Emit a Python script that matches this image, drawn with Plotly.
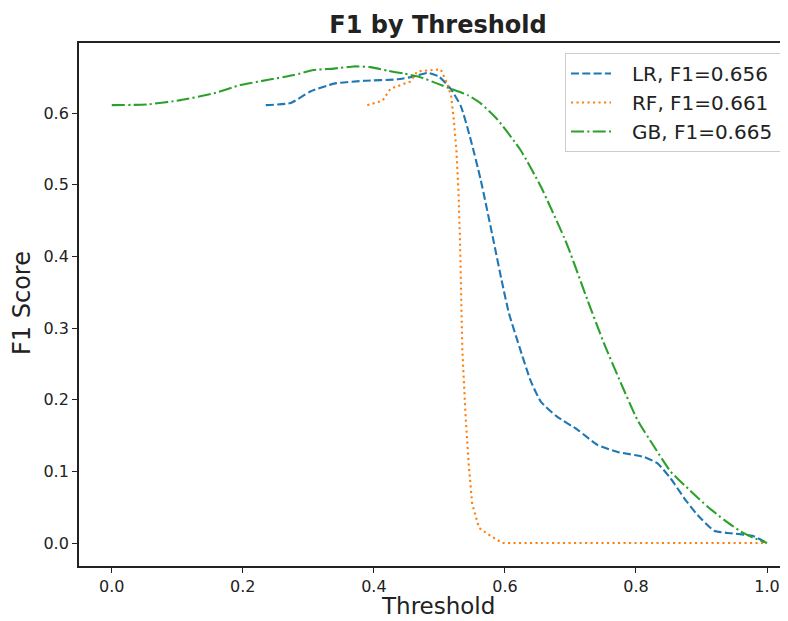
import plotly.graph_objects as go

# ---- data ----
lr_thr = [0.235, 0.273, 0.303, 0.339, 0.385, 0.436, 0.461, 0.482, 0.499, 0.517, 0.533, 0.548, 0.563,
          0.583, 0.596, 0.606, 0.622, 0.639, 0.655, 0.680, 0.711, 0.741, 0.772, 0.8125, 0.833, 0.853,
          0.874, 0.894, 0.9195, 0.945, 0.978, 1.0]
lr_f1 = [0.611, 0.614, 0.630, 0.641, 0.645, 0.647, 0.651, 0.656, 0.651, 0.634, 0.609, 0.562, 0.507,
         0.420, 0.362, 0.321, 0.274, 0.227, 0.197, 0.176, 0.158, 0.137, 0.127, 0.120, 0.111, 0.090,
         0.062, 0.039, 0.017, 0.0135, 0.010, 0.0]

rf_thr = [0.39, 0.413, 0.4255, 0.441, 0.456, 0.466, 0.482, 0.502, 0.512, 0.518, 0.522, 0.526, 0.529,
          0.5315, 0.535, 0.540, 0.545, 0.550, 0.5605, 0.578, 0.596, 0.70, 0.80, 0.90, 1.0]
rf_f1 = [0.611, 0.617, 0.634, 0.639, 0.644, 0.658, 0.659, 0.661, 0.641, 0.623, 0.590, 0.548, 0.493,
         0.420, 0.269, 0.176, 0.107, 0.055, 0.021, 0.010, 0.0, 0.0, 0.0, 0.0, 0.0]

gb_thr = [0.0, 0.054, 0.105, 0.156, 0.196, 0.237, 0.278, 0.308, 0.339, 0.3695, 0.395, 0.4205, 0.446,
          0.471, 0.497, 0.517, 0.543, 0.563, 0.5885, 0.624, 0.655, 0.690, 0.698, 0.726, 0.751, 0.777,
          0.802, 0.828, 0.853, 0.884, 0.909, 0.935, 0.960, 0.981, 1.0]
gb_f1 = [0.611, 0.612, 0.618, 0.6275, 0.639, 0.646, 0.653, 0.660, 0.662, 0.665, 0.664, 0.659, 0.655,
         0.650, 0.641, 0.634, 0.625, 0.6135, 0.591, 0.548, 0.497, 0.427, 0.409, 0.339, 0.279, 0.223,
         0.172, 0.134, 0.0995, 0.072, 0.051, 0.032, 0.016, 0.0066, 0.0]

names = ["LR, F1=0.656", "RF, F1=0.661", "GB, F1=0.665"]
colors = ["#1f77b4", "#ff7f0e", "#2ca02c"]
dashes = ["8px,3.3px", "2.1px,3.4px", "13px,3.3px,2.1px,3.3px"]
shapes = ["spline", "linear", "spline"]

x_ticks = [0.0, 0.2, 0.4, 0.6, 0.8, 1.0]
y_ticks = [0.0, 0.1, 0.2, 0.3, 0.4, 0.5, 0.6]

TS = "\u2009"
fig = go.Figure()
for i, (xs, ys, nm, c, d, sh) in enumerate(zip([lr_thr, rf_thr, gb_thr], [lr_f1, rf_f1, gb_f1],
                                               names, colors, dashes, shapes)):
    fig.add_trace(go.Scatter(x=xs, y=ys, mode="lines", name=TS * 4 + nm + TS * 2, legendgroup=f"g{i}",
                             line=dict(color=c, width=2.1, dash=d, shape=sh,
                                       smoothing=0.5 if sh == "spline" else None)))

# page is offset by the browser's 8px body margin
OFF = 8
W, H = 788 - OFF, 621 - OFF
L, R, T, B = 79 - OFF, 0, 43 - OFF, H - (566 - OFF)
PW, PH = W - L - R, H - T - B
fig.update_layout(
    width=W, height=H,
    margin=dict(l=L, r=R, t=T, b=B, autoexpand=False),
    paper_bgcolor="white", plot_bgcolor="white",
    font=dict(family="DejaVu Sans", color="#222"),
    title=dict(text="<b>F1 by Threshold</b>", x=(438 - OFF) / W, xref="container",
               xanchor="center", y=1 - (25 - OFF) / H, yref="container", yanchor="middle",
               font=dict(size=24, color="#222")),
    xaxis=dict(range=[-0.05, 1.032], tickvals=x_ticks, ticktext=[f"{v:.1f}" for v in x_ticks],
               showgrid=False, zeroline=False, showline=True, linecolor="#222", linewidth=1.8,
               mirror=True, ticks="outside", ticklen=5, tickwidth=1.3, tickcolor="#222",
               tickfont=dict(size=16, color="#222"), automargin=False),
    yaxis=dict(range=[-0.0321, 0.6977], tickvals=y_ticks, ticktext=[f"{v:.1f}" for v in y_ticks],
               showgrid=False, zeroline=False, showline=True, linecolor="#222", linewidth=1.8,
               mirror=False, ticks="outside", ticklen=5, tickwidth=1.3, tickcolor="#222",
               tickfont=dict(size=16, color="#222"), automargin=False),
    legend=dict(x=1 - 1 / PW, xanchor="right", y=1 - 10 / PH, yanchor="top",
                bgcolor="rgba(255,255,255,0.8)", bordercolor="#cccccc", borderwidth=1,
                tracegroupgap=0, itemwidth=40,
                font=dict(size=20, color="#222")),
    showlegend=True,
)
fig.add_annotation(text="Threshold", xref="paper", yref="paper", x=(438 - 79) / PW,
                   y=-(606 - 566) / PH, showarrow=False, font=dict(size=23, color="#222"),
                   xanchor="center", yanchor="middle")
fig.add_annotation(text="F1 Score", xref="paper", yref="paper", x=-(79 - 22) / PW,
                   y=(566 - 303) / PH, showarrow=False, font=dict(size=24, color="#222"),
                   textangle=-90, xanchor="center", yanchor="middle")

fig.write_html("out.html")
